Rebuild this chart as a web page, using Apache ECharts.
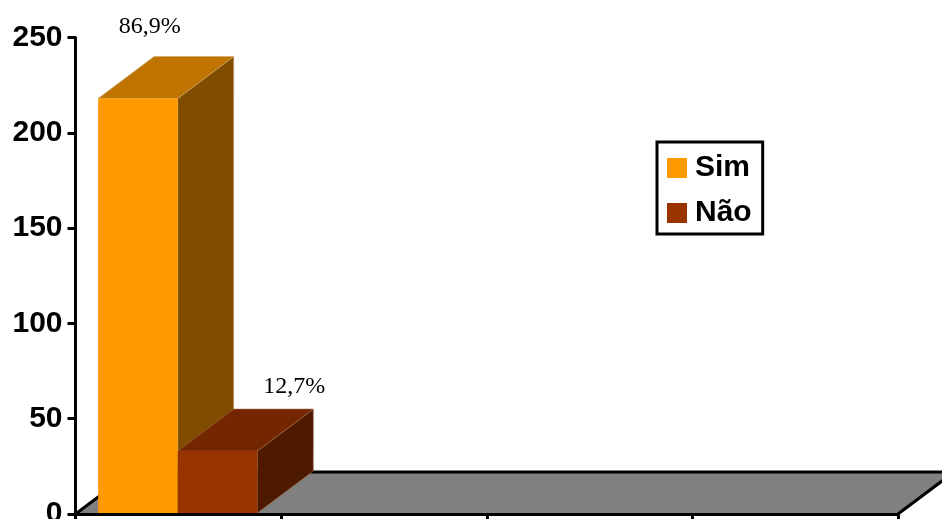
<!DOCTYPE html>
<html>
<head>
<meta charset="utf-8">
<style>html,body{margin:0;padding:0;background:#fff;overflow:hidden}#c{width:942px;height:519px}</style>
<script src="https://cdn.jsdelivr.net/npm/echarts@6/dist/echarts.min.js"></script>
</head>
<body>
<div id="c"></div>
<script>
const categories = ["", "", "", ""];
const tickValues = [0, 50, 100, 150, 200, 250];
const simValues = [218];
const naoValues = [33];
const simLabels = ["86,9%"];
const naoLabels = ["12,7%"];

const DX = 56, DY = -42, BAR_RATIO = 0.387, BAR_SHIFT = -0.6;
const chart = echarts.init(document.getElementById('c'));

function floorItem(params, api) {
  const cs = params.coordSys;
  const y = cs.y + cs.height, x0 = cs.x, x1 = cs.x + cs.width;
  const line = {stroke: '#000', lineWidth: 3, fill: null};
  return {type: 'group', children: [
    {type: 'polygon', shape: {points: [[x0, y], [x1, y], [x1 + DX, y + DY], [x0 + DX, y + DY]]}, style: {fill: '#808080'}},
    {type: 'polyline', shape: {points: [[x0, y], [x0 + DX, y + DY], [x1 + DX, y + DY], [x1, y]]}, style: line}
  ]};
}

function barItem(colors, slot, labels, lx, ly) {
  return function (params, api) {
    const i = api.value(0), v = api.value(1);
    const c = api.coord([i, v]), b = api.coord([i, 0]);
    const band = api.size([1, 0])[0], w = band * BAR_RATIO;
    const l = c[0] + BAR_SHIFT + (slot === 0 ? -w : 0), r = l + w, t = c[1], bt = b[1] - 1;
    const edge = {stroke: colors.edge, lineWidth: 0.6};
    return {type: 'group', children: [
      {type: 'polygon', shape: {points: [[r, t], [r + DX, t + DY], [r + DX, bt + DY], [r, bt]]}, style: Object.assign({fill: colors.side}, edge)},
      {type: 'polygon', shape: {points: [[l, t], [l + DX, t + DY], [r + DX, t + DY], [r, t]]}, style: Object.assign({fill: colors.top}, edge)},
      {type: 'rect', shape: {x: l, y: t, width: w, height: bt - t}, style: {fill: colors.front}},
      {type: 'text', x: r + lx, y: t + DY + ly, style: {text: labels[params.dataIndex], fill: '#000',
        font: '24px "Liberation Serif", "Times New Roman", serif', align: 'center', verticalAlign: 'middle'}}
    ]};
  };
}

chart.setOption({
  animation: false,
  backgroundColor: '#fff',
  grid: {left: 75.5, right: 44, top: 37.5, bottom: 5, outerBoundsMode: 'none', containLabel: false},
  legend: {
    orient: 'vertical', left: 657, top: 142, padding: [11, 11, 6, 10],
    backgroundColor: '#fff', borderColor: '#000', borderWidth: 3, borderRadius: 0,
    itemWidth: 20, itemHeight: 20, itemGap: 15, icon: 'rect',
    textStyle: {fontFamily: '"Liberation Sans", Arial, sans-serif', fontWeight: 'bold', fontSize: 30, color: '#000', padding: [0, 0, 0, 3]},
    data: ['Sim', 'Não']
  },
  xAxis: {
    type: 'category', data: categories, boundaryGap: true,
    axisLine: {lineStyle: {color: '#000', width: 3}},
    axisTick: {show: true, length: 8, lineStyle: {color: '#000', width: 3}},
    axisLabel: {show: false}, splitLine: {show: false}, z: 5
  },
  yAxis: {
    type: 'value', min: tickValues[0], max: tickValues[tickValues.length - 1], interval: tickValues[1],
    axisLine: {show: true, lineStyle: {color: '#000', width: 3}},
    axisTick: {show: true, length: 8, lineStyle: {color: '#000', width: 3}},
    axisLabel: {margin: 13, color: '#000', fontFamily: '"Liberation Sans", Arial, sans-serif', fontWeight: 'bold', fontSize: 30},
    splitLine: {show: false}, z: 5
  },
  series: [
    {type: 'custom', name: 'floor', renderItem: floorItem, data: [[0]], clip: false, silent: true, z: 1, encode: {x: 0}},
    {type: 'custom', name: 'Sim', itemStyle: {color: '#FF9900'}, clip: false, z: 2,
      renderItem: barItem({front: '#FF9900', top: '#BF7300', side: '#804D00', edge: '#C9A469'}, 0, simLabels, -28, -30),
      data: simValues.map((v, i) => [i, v]), encode: {x: 0, y: 1}},
    {type: 'custom', name: 'Não', itemStyle: {color: '#993300'}, clip: false, z: 3,
      renderItem: barItem({front: '#993300', top: '#732600', side: '#4D1A00', edge: '#A06A4A'}, 1, naoLabels, 37, -22),
      data: naoValues.map((v, i) => [i, v]), encode: {x: 0, y: 1}}
  ]
});
</script>
</body>
</html>
